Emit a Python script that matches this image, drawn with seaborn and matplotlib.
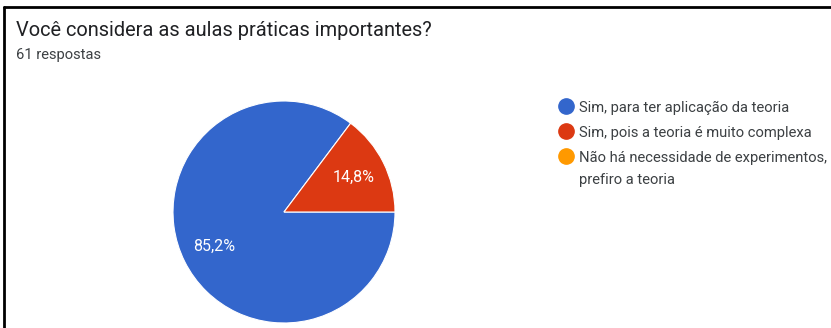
import matplotlib
matplotlib.use('Agg')
import matplotlib.pyplot as plt
from matplotlib.lines import Line2D
import seaborn as sns

# Survey answers (61 responses)
labels = [
    'Sim, para ter aplicação da teoria',
    'Sim, pois a teoria é muito complexa',
    'Não há necessidade de experimentos,\nprefiro a teoria',
]
counts = [52, 9, 0]
colors = ['#3366CC', '#DC3912', '#FF9900']
title = 'Você considera as aulas práticas importantes?'
subtitle = '61 respostas'

sns.set_theme(style='white')
plt.rcParams['font.family'] = ['Roboto', 'DejaVu Sans']

W, H = 831, 328
fig = plt.figure(figsize=(W / 100, H / 100), dpi=100)

# pie area
ax = fig.add_axes([173 / W, 5 / H, 222 / W, 222 / H])
shown = [(c, col) for c, col in zip(counts, colors) if c > 0]
wedges, _, autotexts = ax.pie(
    [c for c, _ in shown],
    colors=[col for _, col in shown],
    startangle=0,
    counterclock=False,
    autopct=lambda p: f'{p:.1f}%'.replace('.', ','),
    pctdistance=0.7,
    wedgeprops=dict(edgecolor='white', linewidth=0.8),
    textprops=dict(color='white', fontsize=11.5),
)
ax.set_xlim(-1, 1)
ax.set_ylim(-1, 1)
ax.set_aspect('equal')

# legend, google-forms style: dot next to first line of each label
for i, (lab, col) in enumerate(zip(labels, colors)):
    y = 106 + 25 * i
    fig.add_artist(Line2D([566 / W], [1 - y / H], marker='o', markersize=11,
                          linestyle='', markerfacecolor=col, markeredgecolor=col))
    fig.text(579 / W, 1 - (y - 5) / H, lab, fontsize=10.6, color='#3c4043',
             va='top', linespacing=1.75)

# titles
fig.text(16 / W, 1 - 30 / H, title, fontsize=14.4, color='#202124', va='center')
fig.text(16 / W, 1 - 55 / H, subtitle, fontsize=10.6, color='#3c4043', va='center')

# frame lines of the screenshot
fig.add_artist(Line2D([4 / W, 1], [1 - 7 / H, 1 - 7 / H], color='black', lw=2))
fig.add_artist(Line2D([4 / W, 4 / W], [0, 1 - 7 / H], color='black', lw=2))

fig.savefig('out.png', dpi=100)
